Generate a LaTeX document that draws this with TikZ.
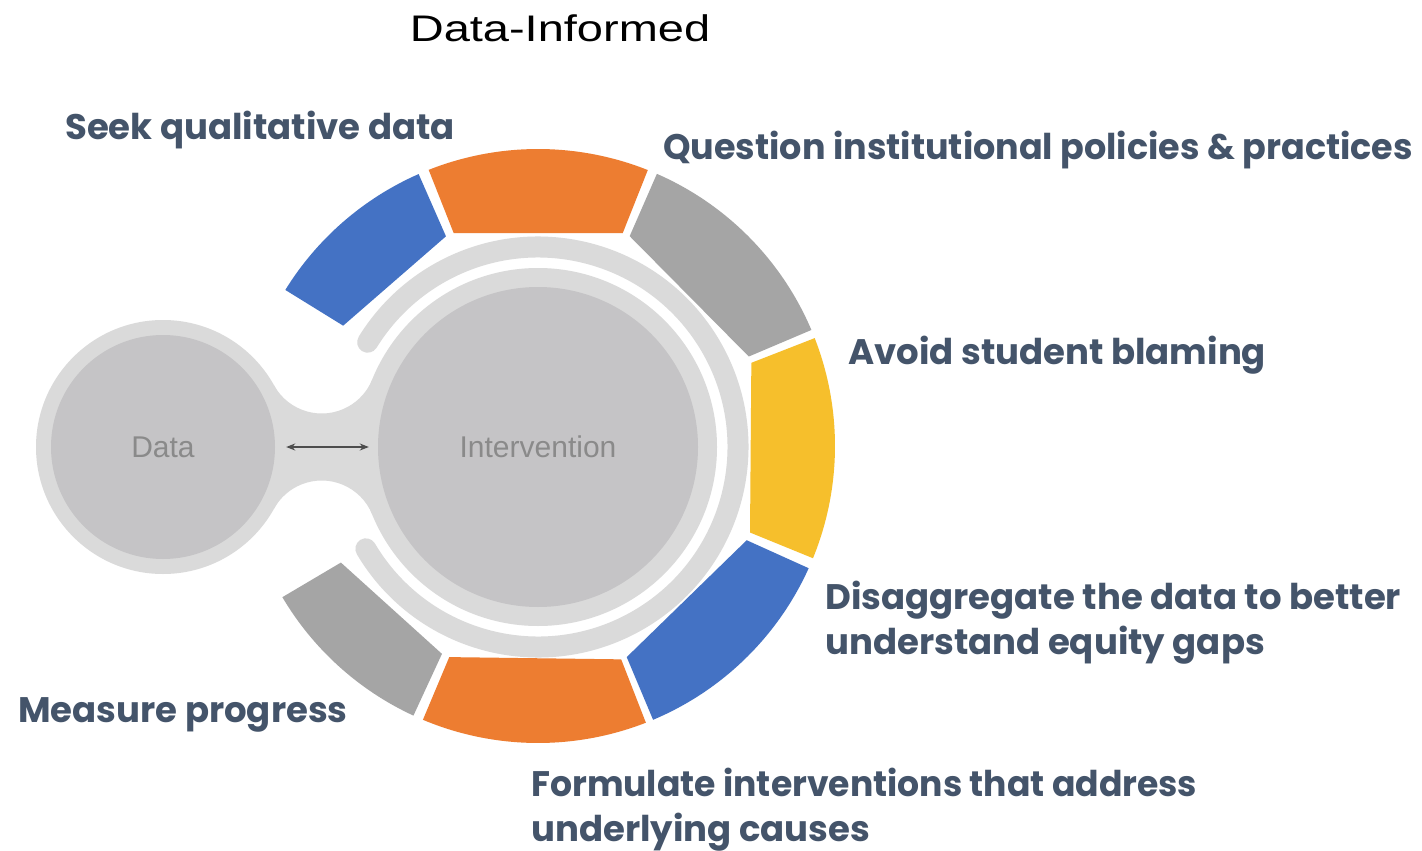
\documentclass[tikz,border=0pt]{standalone}
\usepackage{fontspec}
\setmainfont{Liberation Sans}
\newfontfamily\labfam{Poppins}
\usetikzlibrary{arrows.meta}
\definecolor{segblue}{HTML}{4472C4}
\definecolor{segorange}{HTML}{ED7D31}
\definecolor{seggray}{HTML}{A5A5A5}
\definecolor{segyellow}{HTML}{F6BF2C}
\definecolor{ringgray}{HTML}{DADADA}
\definecolor{innergray}{HTML}{C5C4C6}
\definecolor{labcol}{HTML}{44546A}
\definecolor{circtext}{HTML}{8A8A8A}
\definecolor{arrowcol}{HTML}{4D4D4D}
\newcommand{\labfont}{\labfam\bfseries\fontsize{35.5}{44}\selectfont}
\tikzset{
  lab/.style={anchor=base west, inner sep=0pt, text=labcol, font=\labfont},
  bigcirc/.style={circle, fill=innergray, inner sep=0pt, text=circtext, font=\fontsize{30}{36}\selectfont},
}
\begin{document}
\begin{tikzpicture}[x=1pt,y=1pt]
\useasboundingbox (0,0) rectangle (1422,-851);
\fill[white] (0,0) rectangle (1422,-851);
% neck between the two circles
\fill[ringgray] (163,-447) -- (274.07,-385.42) arc[start angle=209, end angle=337.86, radius=54.5]
  -- (538,-447) -- (372.22,-514.46) arc[start angle=22.14, end angle=151, radius=54.5] -- cycle;
% data circle
\fill[ringgray] (163,-447) circle[radius=127];
\node[bigcirc, minimum size=224pt] (dataC) at (163,-447) {Data};
% intervention circle
\fill[ringgray] (538,-447) circle[radius=179];
\node[bigcirc, minimum size=320pt] (intC) at (538,-447) {Intervention};
% C band
\begin{scope}[shift={(538,-447)}]
\draw[ringgray, line width=21pt, line cap=round] (-149.4:200) arc[start angle=-149.4, end angle=148.4, radius=200];
\end{scope}
% segments
\begin{scope}[shift={(538,-446)}]
\foreach \a/\b/\c in {113.7/148.3/segblue, 68.3/111.6/segorange, 23/66.4/seggray, -22.2/21.3/segyellow, -67.2/-24.3/segblue, -112.8/-68.7/segorange, -149.4/-114.8/seggray}
  \fill[\c] (\a:297) arc[start angle=\a, end angle=\b, radius=297] -- (\b:229) -- (\a:229) -- cycle;
\end{scope}
% arrow
\draw[arrowcol, line width=1.5pt, {Stealth[length=9pt,width=7pt]}-{Stealth[length=9pt,width=7pt]}, shorten <=11pt, shorten >=9pt] (dataC.east) -- (intC.west);
% title
\node[anchor=base, inner sep=0pt, font=\fontsize{37}{44}\selectfont] (title) at (560,-42) {\scalebox{1.27}[1]{Data-Informed}};
% labels
\node[lab] (l1) at (65,-139) {Seek qualitative data};
\node[lab] (l2) at (663,-159) {\scalebox{0.985}[1]{Question institutional policies \& practices}};
\node[lab] (l3) at (848,-364) {Avoid student blaming};
\node[lab] (l4a) at (825,-609) {Disaggregate the data to better};
\node[lab] (l4b) at (825,-654) {understand equity gaps};
\node[lab] (l5) at (18,-722) {Measure progress};
\node[lab] (l6a) at (531,-796) {\scalebox{0.975}[1]{Formulate interventions that address}};
\node[lab] (l6b) at (531,-841) {underlying causes};
\end{tikzpicture}
\end{document}
